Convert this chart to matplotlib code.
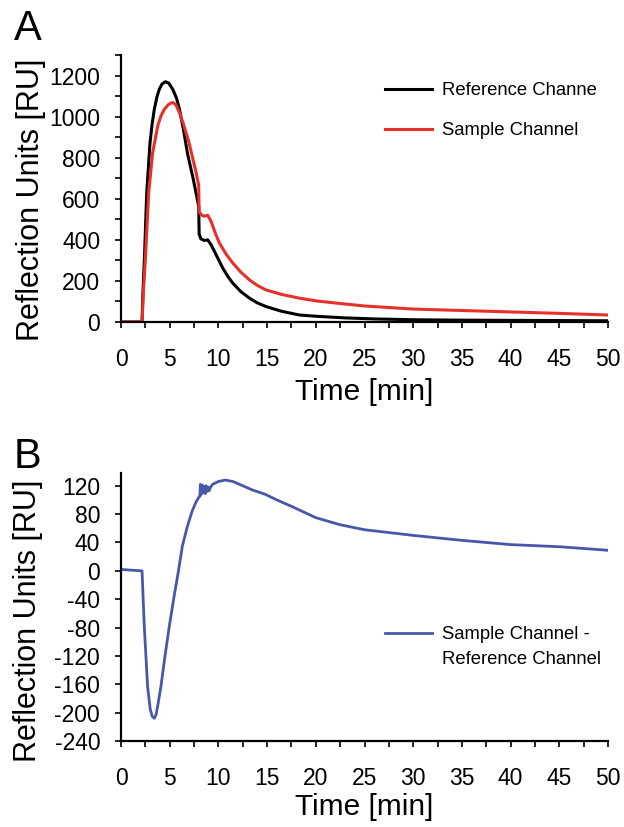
import matplotlib
matplotlib.use("Agg")
import matplotlib.pyplot as plt
from matplotlib.ticker import MultipleLocator

plt.rcParams['font.family'] = ['Liberation Sans', 'DejaVu Sans']
plt.rcParams['axes.unicode_minus'] = False

# ---- Panel A data ----
t_ref = [0, 2.16, 2.25, 2.4, 2.64, 2.98, 3.2, 3.42, 3.7, 3.94, 4.2, 4.55, 4.9, 5.3, 5.7,
         6.0, 6.4, 6.85, 7.4, 7.98,
         8.02, 8.2, 8.56, 8.9, 9.25, 9.77, 10.45, 11.0, 11.48, 12.3, 13.19, 14.0, 14.9,
         16.5, 18.33, 20, 23, 26, 30, 35, 40, 45, 50]
v_ref = [0, 0, 140, 303, 629, 873, 965, 1036, 1098, 1134, 1158, 1170, 1163, 1134, 1090,
         1036, 940, 815, 700, 563,
         430, 405, 397, 400, 376, 327, 262, 220, 189, 148, 116, 93, 75,
         52, 34, 28, 20, 15, 11, 9, 8, 7, 6]

t_smp = [0, 2.16, 2.3, 2.5, 2.84, 3.25, 3.77, 4.1, 4.45, 4.9, 5.3, 5.6, 6.0, 6.4, 6.95,
         7.4, 7.7, 7.98,
         8.02, 8.3, 8.56, 8.9, 9.25, 9.7, 10.1, 10.8, 11.48, 12.3, 13.19, 14.0,
         14.9, 16.5, 18.33, 20, 22.5, 25, 30, 35, 40, 45, 50]
v_smp = [0, 0, 150, 303, 629, 824, 955, 1003, 1036, 1060, 1069, 1060, 1020, 965, 880,
         790, 730, 665,
         535, 520, 515, 520, 490, 430, 385, 330, 287, 243, 205, 178,
         156, 134, 116, 103, 90, 78, 63, 56, 49, 42, 34]

# ---- Panel B data ----
t_diff = [0, 1, 2.1, 2.16, 2.39, 2.73, 3.0, 3.2, 3.42, 3.6, 3.8, 4.1, 4.5, 4.96, 5.45,
          5.9, 6.3, 6.8, 7.3, 7.7, 8.0, 8.1, 8.15, 8.25, 8.35, 8.45,
          8.55, 8.65, 8.75, 8.85, 8.95, 9.05, 9.15, 9.4, 10.0, 10.7, 11.5, 12.5,
          13.5, 14.8, 16, 17.5, 20, 22.5, 25, 27.5, 30, 35, 40, 45, 50]
v_diff = [2, 1, 0, 0, -78, -163, -195, -205, -208, -203, -188, -163, -122, -78, -36,
          0, 35, 62, 84, 97, 104, 105, 122, 108, 121, 110,
          119, 109, 120, 112, 118, 113, 117, 122, 126, 128, 126, 120,
          114, 108, 100, 91, 75, 65, 58, 54, 50, 43, 37, 34, 29]

red = '#E8302A'
blue = '#4858A8'

fig = plt.figure(figsize=(6.24, 8.27), dpi=100)
W, H = 624, 827
axA = fig.add_axes([121/W, 1-322/H, 487/W, 267/H])
axB = fig.add_axes([121/W, 1-741/H, 487/W, 268/H])

axA.plot(t_ref, v_ref, color='black', lw=2.2, label='Reference Channe')
axA.plot(t_smp, v_smp, color=red, lw=2.2, label='Sample Channel')
axB.plot(t_diff, v_diff, color=blue, lw=2.0, label='Sample Channel -')

for ax in (axA, axB):
    ax.spines['top'].set_visible(False)
    ax.spines['right'].set_visible(False)
    ax.spines['left'].set_linewidth(1.6)
    ax.spines['bottom'].set_linewidth(1.6)
    ax.set_xlim(0, 50)
    ax.xaxis.set_major_locator(MultipleLocator(5))
    ax.xaxis.set_minor_locator(MultipleLocator(2.5))
    ax.tick_params(axis='both', which='both', direction='out', length=4, width=1.2,
                   labelsize=16.5)
    ax.tick_params(axis='x', which='major', pad=15)
    ax.set_xlabel('Time [min]', fontsize=21.5)
    ax.set_ylabel('Reflection Units [RU]', fontsize=22)

axA.set_ylim(0, 1300)
axA.yaxis.set_major_locator(MultipleLocator(200))
axA.yaxis.set_minor_locator(MultipleLocator(100))
axA.set_yticks([0, 200, 400, 600, 800, 1000, 1200])
axA.tick_params(axis='y', which='major', pad=11)
axA.xaxis.set_label_coords(0.5, -0.21)
axA.yaxis.set_label_coords(-0.155, 0.457)

axB.set_ylim(-240, 138)
axB.set_yticks(list(range(-240, 121, 40)))
axB.tick_params(axis='y', which='major', pad=11)
axB.xaxis.set_label_coords(0.5, -0.194)
axB.yaxis.set_label_coords(-0.16, 0.448)

legA = axA.legend(loc='upper left', bbox_to_anchor=((385-121)/487, (322-82)/267),
                  frameon=False, fontsize=13.3, handlelength=2.55, handletextpad=0.55,
                  labelspacing=1.25, borderpad=0, borderaxespad=0)
legB = axB.legend(loc='upper left', bbox_to_anchor=((385-121)/487, (741-626)/268),
                  frameon=False, fontsize=13.3, handlelength=2.55, handletextpad=0.55,
                  borderpad=0, borderaxespad=0)

fig.canvas.draw()
txt = legB.get_texts()[0]
bb = txt.get_window_extent()
fig.text(bb.x0 / W, (bb.y0 + bb.height / 2 - 25) / H, 'Reference Channel',
         fontsize=13.3, va='center', ha='left')

fig.text(14/W, 1-40/H, 'A', fontsize=30, va='baseline')
fig.text(14/W, 1-468/H, 'B', fontsize=30, va='baseline')

fig.savefig('out.png', dpi=100)
